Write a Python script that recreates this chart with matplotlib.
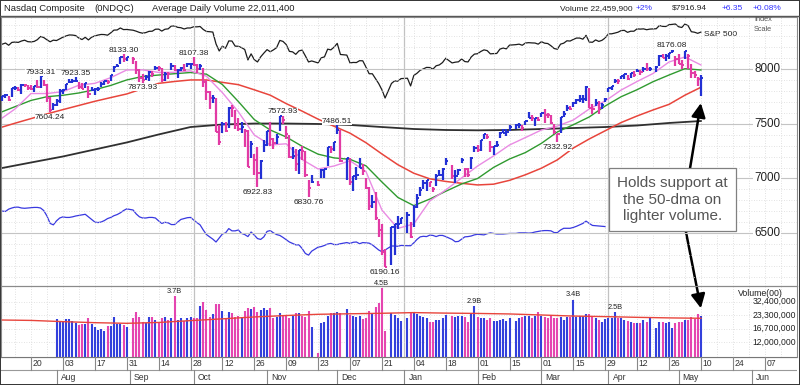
import numpy as np
import pandas as pd
import matplotlib
matplotlib.use('Agg')
import matplotlib.pyplot as plt
import matplotlib.transforms as mtransforms
from matplotlib.patches import Rectangle
from matplotlib.lines import Line2D

plt.rcParams['font.family'] = ['Liberation Sans', 'DejaVu Sans']

#---------------------------------------------------------------------------
#                               DATA
#---------------------------------------------------------------------------

holidays = ['2018-09-03', '2018-11-22', '2018-12-05', '2018-12-25',
            '2019-01-01', '2019-01-21', '2019-02-18', '2019-04-19']

# daily Nasdaq bars, 2018-07-09 .. 2019-05-10 (one row per month)
nq_close = [7757, 7759, 7717, 7823, 7826, 7805, 7855, 7854, 7825, 7820, 7841, 7840, 7932, 7852, 7737, 7630, 7672,
            7707, 7802, 7812, 7860, 7884, 7888, 7891, 7839, 7820, 7871, 7775, 7807, 7816, 7821, 7859, 7889, 7878, 7946, 8018, 8030, 8109, 8088, 8110,
            8092, 7995, 7922, 7903, 7924, 7973, 7954, 8013, 8010, 7896, 7957, 7951, 8028, 7987, 7993, 8007, 7990, 8042, 8046,
            8037, 7999, 8026, 7879, 7788, 7735, 7738, 7422, 7329, 7497, 7431, 7645, 7643, 7485, 7449, 7468, 7437, 7108, 7318, 7167, 7050, 7161, 7306,
            7434, 7357, 7328, 7375, 7571, 7530, 7407, 7200, 7201, 7136, 7259, 7247, 7028, 6909, 6972, 6939, 7082, 7083, 7292, 7273, 7331,
            7442, 7159, 7189, 6970, 7021, 7031, 7098, 7070, 6911, 6753, 6784, 6637, 6529, 6333, 6193, 6554, 6580, 6585, 6635,
            6665, 6463, 6739, 6823, 6897, 6957, 6986, 6971, 6906, 7024, 7034, 7084, 7157, 7020, 7026, 7073, 7165, 7085, 7028, 7184, 7282,
            7263, 7348, 7403, 7375, 7288, 7298, 7307, 7415, 7420, 7427, 7472, 7487, 7489, 7460, 7528, 7554, 7550, 7555, 7533,
            7595, 7577, 7576, 7505, 7421, 7408, 7558, 7592, 7644, 7631, 7688, 7714, 7724, 7728, 7838, 7643, 7637, 7692, 7644, 7670, 7729,
            7828, 7848, 7895, 7891, 7938, 7954, 7909, 7964, 7947, 7984, 7976, 8000, 7996, 7998, 8016, 8121, 8102, 8119, 8146, 8161, 8095,
            8049, 8036, 8164, 8123, 7963, 7943, 7910, 7917]

nq_high = [7757, 7771, 7756, 7828, 7843, 7835, 7860, 7866, 7856, 7850, 7846, 7899, 7933.31, 7901, 7863, 7746, 7690,
           7728, 7813, 7814, 7860, 7905, 7905, 7923.35, 7878, 7868, 7873, 7843, 7832, 7822, 7838, 7883, 7894, 7897, 7948, 8025, 8044, 8110, 8133.30, 8114,
           8110, 8069, 8002, 7954, 7944, 7978, 7983, 8028, 8029, 8008, 7974, 7970, 8052, 8037, 7997, 8020, 8048, 8057, 8052,
           8107.38, 8046, 8048, 8010, 7900, 7800, 7759, 7738, 7490, 7512, 7512, 7651, 7672, 7629, 7549, 7513, 7450, 7446, 7342, 7225, 7284, 7166, 7351,
           7437, 7515, 7372, 7406, 7571, 7572.93, 7481, 7394, 7291, 7266, 7261, 7297, 7250, 6983, 7033, 6980, 7086, 7083, 7292, 7295, 7335,
           7486.51, 7447, 7189, 7189, 7025, 7104, 7183, 7136, 7009, 6924, 6850, 6876, 6632, 6586, 6355, 6554, 6585, 6661, 6642,
           6693, 6601, 6760, 6855, 6918, 6985, 6987, 6972, 6924, 7039, 7081, 7100, 7190, 7119, 7075, 7084, 7186, 7094, 7095, 7193, 7298,
           7303, 7348, 7409, 7402, 7342, 7298, 7346, 7421, 7456, 7456, 7484, 7502, 7506, 7490, 7529, 7603, 7582, 7557, 7563,
           7602, 7639, 7600, 7581, 7502, 7409, 7560, 7612, 7670, 7659, 7702, 7727, 7767, 7762, 7849, 7827, 7676, 7727, 7710, 7688, 7733,
           7829, 7848, 7908, 7906, 7940, 7955, 7946, 7964, 7981, 7999, 7995, 8018, 8052, 8017, 8030, 8131, 8139, 8136, 8147, 8176.08, 8123,
           8140, 8082, 8165, 8133, 8050, 7981, 7924, 7944]

nq_low = [7706, 7738, 7712, 7745, 7804, 7796, 7772, 7832, 7807, 7810, 7787, 7824, 7826, 7841, 7700, 7604.24, 7625,
          7666, 7686, 7775, 7805, 7870, 7873, 7877, 7818, 7813, 7830, 7734, 7798, 7760, 7801, 7833, 7851, 7860, 7893, 7976, 8019, 8043, 8066, 8071,
          8046, 7956, 7880, 7873.93, 7896, 7888, 7927, 7993, 7983, 7884, 7894, 7911, 7988, 7980, 7921, 7979, 7983, 8020, 8004,
          8023, 7967, 7992, 7836, 7720, 7638, 7691, 7422, 7303, 7418, 7429, 7462, 7559, 7452, 7430, 7420, 7292, 7102, 7185, 7030, 6922.83, 6996, 7244,
          7297, 7295, 7265, 7316, 7432, 7497, 7364, 7184, 7178, 7065, 7044, 7167, 7018, 6830.76, 6962, 6927, 7000, 7003, 7111, 7237, 7247,
          7408, 7150, 6988, 6938, 6887, 6985, 7092, 7035, 6900, 6716, 6733, 6618, 6464, 6305, 6190.16, 6214, 6305, 6539, 6586,
          6506, 6457, 6554, 6731, 6836, 6905, 6885, 6922, 6880, 6928, 7025, 6986, 7125, 6994, 6958, 7032, 7139, 7010, 7013, 7085, 7246,
          7240, 7247, 7358, 7361, 7241, 7219, 7285, 7367, 7415, 7390, 7437, 7453, 7460, 7438, 7489, 7553, 7521, 7476, 7526,
          7564, 7511, 7550, 7502, 7402, 7332.92, 7420, 7566, 7618, 7628, 7655, 7681, 7702, 7689, 7706, 7642, 7593, 7659, 7592, 7634, 7703,
          7789, 7807, 7873, 7866, 7905, 7913, 7904, 7917, 7929, 7970, 7942, 7971, 7983, 7980, 7975, 8023, 8102, 8070, 8093, 8148, 8025,
          8049, 8001, 8091, 7996, 7921, 7920, 7847, 7751]

# S&P 500 close, same days
sp500 = [2784, 2793, 2775, 2798, 2801, 2798, 2809, 2816, 2804, 2802, 2806, 2820, 2846, 2837, 2819, 2803, 2816,
         2813, 2827, 2840, 2850, 2858, 2857, 2853, 2833, 2821, 2839, 2818, 2840, 2850, 2857, 2862, 2861, 2856, 2875, 2897, 2898, 2914, 2901, 2902,
         2896, 2888, 2878, 2872, 2877, 2887, 2888, 2904, 2905, 2889, 2904, 2907, 2930, 2930, 2919, 2916, 2906, 2914, 2914,
         2924, 2923, 2926, 2902, 2886, 2884, 2881, 2786, 2729, 2768, 2751, 2810, 2809, 2768, 2767, 2756, 2741, 2657, 2706, 2659, 2641, 2682, 2712,
         2740, 2723, 2738, 2756, 2814, 2806, 2781, 2726, 2722, 2702, 2730, 2736, 2690, 2641, 2649, 2633, 2674, 2682, 2744, 2738, 2760,
         2790, 2701, 2696, 2633, 2637, 2636, 2651, 2650, 2600, 2546, 2546, 2507, 2467, 2417, 2351, 2468, 2489, 2486, 2507,
         2510, 2448, 2532, 2550, 2574, 2585, 2597, 2596, 2583, 2610, 2617, 2636, 2671, 2633, 2639, 2642, 2665, 2644, 2641, 2681, 2704,
         2707, 2725, 2738, 2732, 2706, 2708, 2709, 2744, 2753, 2746, 2776, 2780, 2784, 2775, 2793, 2796, 2794, 2793, 2784,
         2804, 2792, 2789, 2771, 2749, 2743, 2784, 2792, 2811, 2809, 2822, 2833, 2833, 2824, 2855, 2801, 2799, 2818, 2806, 2815, 2834,
         2867, 2867, 2873, 2880, 2893, 2895, 2879, 2888, 2888, 2907, 2905, 2907, 2900, 2905, 2908, 2934, 2927, 2926, 2940, 2943, 2946,
         2924, 2918, 2946, 2932, 2884, 2880, 2871, 2881]

# relative strength line (x1000), visible part up to 2019-03-29
rs_line = [2786, 2785, 2793, 2797, 2800, 2800, 2797, 2796, 2797, 2798, 2799, 2799, 2797, 2788, 2769, 2743, 2738,
           2752, 2762, 2766, 2764, 2764, 2766, 2769, 2771, 2773, 2775, 2766, 2757, 2748, 2746, 2748, 2753, 2760, 2764, 2770, 2774, 2780, 2788, 2794,
           2790, 2776, 2766, 2762, 2762, 2764, 2764, 2762, 2752, 2743, 2747, 2745, 2739, 2739, 2748, 2757, 2760, 2763, 2764,
           2755, 2746, 2738, 2720, 2704, 2696, 2688, 2678, 2692, 2706, 2710, 2725, 2717, 2717, 2720, 2708, 2704, 2697, 2713, 2702, 2690, 2687, 2696,
           2715, 2718, 2710, 2704, 2701, 2694, 2686, 2678, 2673, 2668, 2668, 2655, 2638, 2632, 2646, 2660, 2662, 2666, 2671, 2673, 2669,
           2669, 2672, 2676, 2673, 2677, 2678, 2672, 2676, 2675, 2674, 2668, 2659, 2650, 2644, 2650, 2664, 2664, 2663, 2666,
           2665, 2665, 2675, 2687, 2696, 2698, 2697, 2702, 2701, 2697, 2701, 2701, 2697, 2687, 2679, 2680, 2688, 2696, 2697, 2699, 2703,
           2705, 2704, 2703, 2707, 2710, 2708, 2706, 2706, 2706, 2707, 2708, 2708, 2710, 2710, 2710, 2709, 2710, 2713, 2715,
           2717, 2718, 2718, 2717, 2711, 2711, 2720, 2726, 2726, 2726, 2729, 2733, 2738, 2743, 2751, 2743, 2736, 2735, 2734, 2733, 2732]

# volume in billions of shares, from 2018-08-01
volume = [2.10, 2.01, 1.95, 2.13, 2.10, 2.03, 1.93, 1.82, 1.85, 1.85, 2.18, 1.85, 1.75, 1.61, 1.64, 1.57, 1.79, 1.79, 2.24, 1.85, 1.85, 1.82, 1.75,
          2.15, 2.53, 2.24, 1.98, 1.93, 2.24, 2.24, 2.06, 1.98, 2.15, 2.20, 2.06, 2.18, 3.70, 2.06, 2.15, 2.01, 2.15, 2.24,
          2.18, 2.15, 2.93, 3.18, 2.63, 2.24, 2.37, 3.03, 3.03, 2.57, 2.15, 2.49, 2.43, 2.24, 2.29, 2.20, 2.57, 2.79, 2.70, 2.86, 2.53, 2.63, 2.79,
          2.63, 2.74, 2.15, 2.24, 2.43, 2.33, 2.29, 2.15, 2.29, 2.43, 2.43, 2.29, 2.24, 2.57, 1.75, 0.91, 1.90, 1.98, 2.29, 2.43, 2.43,
          2.49, 2.43, 2.70, 2.33, 2.29, 2.24, 2.29, 2.11, 2.15, 2.57, 2.43, 2.86, 3.10, 4.50, 1.58, 2.43, 2.33, 2.15, 2.03,
          2.18, 2.49, 2.43, 2.37, 2.29, 2.24, 2.15, 1.98, 1.95, 2.06, 2.06, 2.15, 2.33, 2.29, 2.20, 2.29, 2.29, 2.24, 1.98, 2.37, 2.90,
          2.24, 2.15, 2.18, 2.08, 2.15, 2.01, 2.01, 2.06, 2.10, 2.01, 2.18, 2.01, 2.15, 2.24, 2.29, 2.29, 2.15, 2.27, 2.53,
          2.29, 2.24, 2.15, 2.29, 2.18, 2.15, 2.24, 2.06, 2.24, 2.22, 3.40, 2.24, 2.29, 2.29, 2.37, 2.37, 2.22, 2.15, 2.06, 1.98, 2.11,
          2.18, 2.15, 2.50, 2.15, 2.15, 2.06, 2.01, 1.98, 1.90, 1.90, 1.90, 2.06, 1.98, 2.15, 1.71, 1.95, 1.95, 1.90, 1.95, 1.68, 1.93,
          1.98, 1.95, 2.06, 2.06, 2.24, 2.11, 2.40, 2.25]

# moving averages read weekly (2018-07-09, then every Friday)
ma10 = [7553, 7635, 7776, 7776, 7793, 7852, 7869, 7921, 7991, 7992, 7969, 7970, 7983, 7934, 7784, 7609, 7397, 7306, 7317, 7173,
        7087, 7114, 7162, 7064, 6712, 6544, 6585, 6795, 6895, 7005, 7114, 7206, 7306, 7374, 7443, 7479, 7534, 7635, 7708, 7808,
        7886, 7959, 8064, 8110, 8037]
ma21 = [7610, 7656, 7713, 7747, 7760, 7781, 7811, 7850, 7900, 7932, 7945, 7957, 7968, 7953, 7858, 7703, 7538, 7443, 7379, 7294,
        7222, 7188, 7175, 7116, 6968, 6827, 6752, 6812, 6883, 6950, 7000, 7101, 7178, 7237, 7321, 7425, 7491, 7562, 7662, 7747,
        7811, 7884, 7945, 8003, 7991]
ma50 = [7470, 7505, 7547, 7590, 7629, 7667, 7705, 7739, 7772, 7820, 7869, 7886, 7900, 7900, 7878, 7857, 7810, 7761, 7684, 7615,
        7542, 7477, 7414, 7327, 7224, 7126, 7048, 6997, 6973, 6956, 6941, 6948, 6983, 7034, 7094, 7170, 7278, 7361, 7436, 7511,
        7571, 7626, 7677, 7761, 7833]
# read every second Friday (2018-07-09, then 2018-07-20, 08-03, ...)
ma200 = [7096, 7146, 7201, 7265, 7329, 7402, 7470, 7493, 7502, 7502, 7498, 7489, 7470, 7452, 7443, 7440, 7443, 7452, 7461, 7470,
         7484, 7507, 7525]
vol_ma = [2.06, 2.04, 1.98, 1.93, 1.90, 1.94, 2.03, 2.12, 2.22, 2.30, 2.37, 2.40, 2.43, 2.47, 2.44, 2.42, 2.39, 2.33, 2.27, 2.24,
          2.20, 2.17, 2.15]

price_notes = [('2018-07-25', 7933.31, 'high'), ('2018-07-30', 7604.24, 'low'), ('2018-08-09', 7923.35, 'high'),
               ('2018-08-30', 8133.30, 'high'), ('2018-09-07', 7873.93, 'low'), ('2018-10-01', 8107.38, 'high'),
               ('2018-10-29', 6922.83, 'low'), ('2018-11-08', 7572.93, 'high'), ('2018-11-20', 6830.76, 'low'),
               ('2018-12-03', 7486.51, 'high'), ('2018-12-24', 6190.16, 'low'), ('2019-03-08', 7332.92, 'low'),
               ('2019-04-29', 8176.08, 'high')]
volume_notes = [('2018-09-21', '3.7B'), ('2018-12-21', '4.5B'), ('2019-01-31', '2.9B'),
                ('2019-03-15', '3.4B'), ('2019-04-03', '2.5B')]

price_ticks = [6500, 7000, 7500, 8000]
volume_ticks = [12000000, 16700000, 23300000, 32400000]

#---------------------------------------------------------------------------
#                               HELPERS
#---------------------------------------------------------------------------

W, H = 800, 385
PX = 3.19          # pixels per weekday
X0 = 31            # pixel of 2018-07-20


def pos(dates):
    d = pd.to_datetime(dates).values.astype('datetime64[D]')
    return np.busday_count(np.datetime64('2018-07-20'), d)


def pixbox(x0, y0, x1, y1):
    return [x0 / W, 1 - y1 / H, (x1 - x0) / W, (y1 - y0) / H]


days = pd.bdate_range('2018-07-09', '2019-05-10')
days = days[~days.isin(pd.to_datetime(holidays))]
x = pos(days)
close = np.array(nq_close)
prev = np.r_[close[0], close[:-1]]
up = close >= prev
BLUE, PINK = '#2230d4', '#e23aa4'
bar_col = np.where(up, BLUE, PINK)

ma_dates = pd.DatetimeIndex(['2018-07-09']).append(pd.date_range('2018-07-13', '2019-05-10', freq='W-FRI'))
ma2_dates = pd.DatetimeIndex(['2018-07-09']).append(pd.date_range('2018-07-20', '2019-05-10', freq='2W-FRI'))
fridays = pos(pd.date_range('2018-07-06', '2019-06-21', freq='W-FRI'))
quarters = pos(['2018-10-01', '2019-01-01', '2019-04-01'])
xlim = ((1 - X0) / PX, (797 - X0) / PX)

#---------------------------------------------------------------------------
#                               FIGURE
#---------------------------------------------------------------------------

fig = plt.figure(figsize=(8, 3.85), dpi=100)
ax = fig.add_axes(pixbox(1, 17, 797, 286))
vax = fig.add_axes(pixbox(1, 286, 797, 357))
dax = fig.add_axes(pixbox(1, 357, 797, 384))

for a in (ax, vax):
    a.set_xlim(*xlim)
    a.set_xticks([])
    a.set_yticks([])
    for s in a.spines.values():
        s.set_color('#8a8a8a')
        s.set_linewidth(0.8)
    for f in fridays:
        a.axvline(f, color='#d6d6d6', lw=0.6, ls=(0, (1, 2)), zorder=0)
    for q in quarters:
        a.axvline(q, color='#c2c2c2', lw=0.9, zorder=0)

# overlay scales (S&P 500 index and RS line) under the price bars
sax = ax.twinx()
sax.set_ylim(839.5, 3002.3)
sax.axis('off')
rax = ax.twinx()
rax.set_ylim(2524, 3465.5)
rax.axis('off')
ax.set_zorder(3)
ax.patch.set_visible(False)

# ---- price panel
ax.set_ylim(6018, 8475)
for p in range(6100, 8500, 100):
    if p in price_ticks:
        ax.axhline(p, color='#c4c4c4', lw=0.8, zorder=0)
    else:
        ax.axhline(p, color='#d9d9d9', lw=0.6, ls=(0, (1, 2)), zorder=0)

lab_tr = mtransforms.blended_transform_factory(ax.transAxes, ax.transData)
for p in price_ticks:
    ax.text(0.946, p, str(p), transform=lab_tr, fontsize=8.4, va='center', ha='left', color='#222222',
            bbox=dict(fc='white', ec='none', pad=0.5), zorder=5)

sax.plot(x, sp500, color='#1c1c1c', lw=0.9)
sax.annotate('S&P 500', (x[-1], sp500[-1]), xytext=(2, -2), textcoords='offset points',
             fontsize=6, va='center', ha='left', color='#222222')
rax.plot(x[:len(rs_line)], rs_line, color='#3838e0', lw=0.9)

ax.plot(pos(ma2_dates), ma200, color='#303030', lw=1.3, zorder=2)
ax.plot(pos(ma_dates), ma50, color='#e8453c', lw=1.1, zorder=2)
ax.plot(pos(ma_dates), ma21, color='#2f9a2f', lw=1.0, zorder=2)
ax.plot(pos(ma_dates), ma10, color='#e98be3', lw=1.0, zorder=2)

ax.vlines(x, nq_low, nq_high, colors=bar_col, lw=1.6, zorder=3)
ax.hlines(close, x, x + 0.7, colors=bar_col, lw=1.4, zorder=3)

for date, value, kind in price_notes:
    xi = pos([date])[0]
    if kind == 'high':
        ax.annotate('%.2f' % value, (xi, value), xytext=(0, 0.3), textcoords='offset points',
                    ha='center', va='bottom', fontsize=6, color='#222222',
                    bbox=dict(fc='white', ec='none', pad=0), zorder=4)
    else:
        ax.annotate('%.2f' % value, (xi, value), xytext=(0, -1.2), textcoords='offset points',
                    ha='center', va='top', fontsize=6, color='#222222',
                    bbox=dict(fc='white', ec='none', pad=0), zorder=4)

# call-out box and arrows
ax.text(201.1, 6808, 'Holds support at\nthe 50-dma on\nlighter volume.', ha='center', va='center',
        fontsize=11, color='#555555', zorder=6,
        bbox=dict(boxstyle='square,pad=0.55', fc='white', ec='#808080', lw=0.9))
arrow = dict(arrowstyle='-|>,head_length=0.7,head_width=0.35', color='black', lw=1.8,
             shrinkA=0, shrinkB=0, mutation_scale=12)
ax.annotate('', xy=(x[-1], 7689), xytext=(206.4, 7060), arrowprops=arrow, zorder=5)

# ---- volume panel
vmin, vmax = 8.325e6, 4.74e7
vax.set_yscale('log')
vax.set_ylim(vmin, vmax)
vax.set_yticks([])
vax.yaxis.set_minor_locator(matplotlib.ticker.NullLocator())
for v in volume_ticks:
    vax.axhline(v, color='#d9d9d9', lw=0.6, ls=(0, (1, 2)), zorder=0)
vol = np.array(volume) * 1e7
xv = x[-len(volume):]
vcol = np.where(up[-len(volume):], '#3340dc', '#e545b0')
vax.vlines(xv, vmin, vol, colors=vcol, lw=1.5, zorder=2)
vax.plot(pos(ma2_dates), np.array(vol_ma) * 1e7, color='#e8453c', lw=1.0, zorder=3)

vtr = mtransforms.blended_transform_factory(vax.transAxes, vax.transData)
for v in volume_ticks:
    vax.text(0.999, v, '{:,}'.format(v), transform=vtr, fontsize=6.2, ha='right', va='center',
             color='#222222', bbox=dict(fc='white', ec='none', pad=0.3), zorder=5)
vax.text(0.982, 0.9, 'Volume(00)', transform=vax.transAxes, fontsize=6.3, ha='right', va='center',
         color='#222222', zorder=6)
offset = len(x) - len(volume)
for date, text in volume_notes:
    i = list(days).index(pd.Timestamp(date))
    vax.annotate(text, (x[i], volume[i - offset] * 1e7), xytext=(0, 1),
                 textcoords='offset points', ha='center', va='bottom', fontsize=5.3,
                 color='#222222', annotation_clip=False, zorder=6)

vax.annotate('', xy=(x[-1], 2.745e7), xycoords='data', xytext=(205.0, 6560), textcoords=ax.transData,
             arrowprops=arrow, annotation_clip=False)

# ---- date rows
dax.set_xlim(*xlim)
dax.set_ylim(27, 0)
dax.axis('off')
dax.axhline(0.3, color='#777777', lw=0.8)
dax.axhline(13, color='#999999', lw=0.8)
ticks = pd.date_range('2018-07-20', '2019-06-07', freq='2W-FRI')
for t, xt in zip(ticks, pos(ticks)):
    dax.plot([xt, xt], [0, 13], color='#888888', lw=0.8)
    dax.text(xt + 0.5, 6.8, t.strftime('%d'), fontsize=6.2, va='center', ha='left', color='#333333')
months = pd.date_range('2018-08-01', '2019-06-30', freq='BMS')
for m, xm in zip(months, pos(months)):
    dax.plot([xm, xm], [13, 27], color='#888888', lw=0.8)
    dax.text(xm + 1.3, 20.3, m.strftime('%b'), fontsize=6.2, va='center', ha='left', color='#333333')

# ---- header
def ftext(px, py, s, **kw):
    fig.text(px / W, 1 - py / H, s, va='center', ha='left', **kw)

ftext(4, 8.5, 'Nasdaq Composite', fontsize=6.8, color='#222222')
ftext(94, 8.5, '(0NDQC)', fontsize=6.8, color='#222222')
ftext(152, 8.5, 'Average Daily Volume 22,011,400', fontsize=6.8, color='#222222')
ftext(560, 8.5, 'Volume 22,459,900', fontsize=6.0, color='#222222')
ftext(636, 8.5, '+2%', fontsize=6.0, color='#3333ff')
ftext(672, 8.5, '$7916.94', fontsize=6.0, color='#222222')
ftext(722, 8.5, '+6.35', fontsize=6.0, color='#3333ff')
ftext(753, 8.5, '+0.08%', fontsize=6.0, color='#3333ff')
ftext(754, 19.5, 'Index', fontsize=5.3, color='#555555')
ftext(754, 29.5, 'Scale', fontsize=5.3, color='#555555')

fig.add_artist(Line2D([0, 1], [1 - 15.5 / H, 1 - 15.5 / H], transform=fig.transFigure, color='#555555', lw=1.0))
fig.add_artist(Rectangle((0.0006, 0.001), 0.9988, 0.998, transform=fig.transFigure, fill=False,
                         ec='#333333', lw=1.4))

fig.savefig('out.png', dpi=100)
